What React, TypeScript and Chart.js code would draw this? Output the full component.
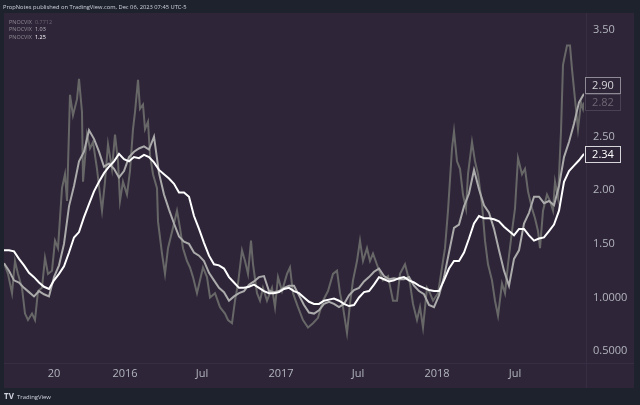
import React, { useEffect, useRef } from "react";
import { Chart, registerables } from "chart.js";

Chart.register(...registerables);

// ---- data ----
// x unit: sampling period of the two smoother series (~12 days)
const WHITE = [
  1.44, 1.44, 1.43, 1.36, 1.3, 1.23, 1.19, 1.14, 1.1, 1.08,
  1.16, 1.22, 1.29, 1.42, 1.56, 1.61, 1.75, 1.87, 1.99, 2.08,
  2.16, 2.22, 2.27, 2.34, 2.29, 2.27, 2.31, 2.3, 2.33, 2.31,
  2.26, 2.19, 2.15, 2.11, 2.06, 1.98, 1.98, 1.94, 1.76, 1.64,
  1.51, 1.39, 1.31, 1.3, 1.27, 1.19, 1.14, 1.09, 1.09, 1.1,
  1.12, 1.09, 1.06, 1.04, 1.04, 1.05, 1.08, 1.09, 1.06, 1.04,
  1.0, 0.96, 0.94, 0.94, 0.97, 0.98, 0.99, 0.97, 0.94, 0.92,
  0.93, 1.0, 1.05, 1.06, 1.12, 1.19, 1.17, 1.15, 1.16, 1.18,
  1.19, 1.16, 1.14, 1.11, 1.09, 1.07, 1.06, 1.06, 1.16, 1.27,
  1.34, 1.34, 1.42, 1.55, 1.69, 1.76, 1.74, 1.74, 1.73, 1.71,
  1.66, 1.62, 1.58, 1.64, 1.64, 1.58, 1.53, 1.55, 1.56, 1.62,
  1.68, 1.81, 2.08, 2.18, 2.23, 2.28, 2.34,
];

const LIGHT = [
  1.32, 1.25, 1.16, 1.14, 1.09, 1.05, 1.01, 1.06, 1.03, 1.01,
  1.19, 1.3, 1.5, 1.85, 2.04, 2.27, 2.36, 2.56, 2.48, 2.36,
  2.22, 2.25, 2.2, 2.12, 2.18, 2.31, 2.36, 2.39, 2.41, 2.38,
  2.5, 2.16, 1.96, 1.82, 1.69, 1.57, 1.52, 1.5, 1.42, 1.39,
  1.34, 1.23, 1.16, 1.09, 1.05, 0.97, 1.01, 1.04, 1.06, 1.12,
  1.15, 1.19, 1.2, 1.06, 1.05, 1.06, 1.09, 1.11, 1.11, 1.02,
  0.93, 0.86, 0.85, 0.88, 0.94, 0.96, 0.94, 0.91, 0.94, 1.02,
  1.07, 1.09, 1.15, 1.19, 1.24, 1.27, 1.2, 1.17, 1.18, 1.17,
  1.17, 1.19, 1.11, 1.06, 1.03, 0.93, 0.91, 1.02, 1.19, 1.42,
  1.65, 1.68, 1.85, 1.97, 2.19, 2.01, 1.86, 1.79, 1.64, 1.44,
  1.25, 1.11, 1.36, 1.44, 1.69, 1.79, 1.94, 1.94, 1.88, 1.9,
  1.86, 2.04, 2.31, 2.45, 2.62, 2.82, 2.9,
];

// the jagged series is read at finer, uneven steps
const DARK_X = [
  0, 0.8, 1.6, 2.2, 2.8, 3.6, 4.2, 4.8, 5.6, 6.2, 6.8, 7.6, 8.2, 8.8, 9.6,
  10.2, 10.8, 11.6, 12.2, 12.6, 13.2, 13.8, 14.6, 15, 15.6, 15.8, 16.6, 17.2, 17.8, 18.6,
  19.2, 19.6, 20.2, 20.8, 21.6, 22.2, 22.8, 23.2, 23.8, 24.6, 25.2, 25.8, 26.2, 26.8, 27.2,
  27.8, 28.2, 28.8, 29.2, 29.8, 30.6, 30.8, 31.6, 32.2, 32.8, 33.8, 34.6, 35.2, 35.8, 36.6,
  37.2, 37.8, 38.6, 39.2, 39.8, 40.6, 41.2, 42.2, 43.2, 44.2, 44.8, 45.6, 46.2, 46.8, 47.6,
  48.2, 48.8, 49.4, 49.8, 50.6, 51.2, 51.8, 52.6, 53.6, 54.2, 54.8, 55.6, 56.6, 57.2, 57.8,
  58.8, 59.8, 60.8, 61.8, 62.8, 63.8, 64.8, 65.8, 66.6, 67.2, 67.8, 68.6, 69.2, 69.8, 70.6,
  71.2, 71.8, 72.6, 73.2, 73.8, 74.8, 75.8, 76.8, 77.8, 78.6, 79.2, 80.2, 81.2, 81.8, 82.6,
  83.2, 83.8, 84.6, 85.2, 85.8, 86.8, 87.6, 88.2, 88.8, 89.6, 90, 90.6, 91.2, 91.8, 92.4,
  92.8, 93.6, 94.2, 94.8, 95.6, 96.2, 96.8, 97.6, 98.2, 98.8, 99.6, 100.2, 100.8, 101.6, 102.2,
  102.8, 103.6, 104.2, 104.8, 105.6, 106.2, 106.8, 107.2, 107.8, 108.6, 109.2, 109.8, 110.2, 110.8, 111.4,
  111.8, 112.6, 113.2, 113.6, 114.2, 114.8, 115.4, 115.8, 116,
];
const DARK_Y = [
  1.32, 1.22, 1.04, 1.34, 1.22, 1.09, 0.85, 0.79, 0.85, 0.79, 1.06, 1.09, 1.37, 1.22, 1.25,
  1.53, 1.46, 2.02, 2.15, 1.9, 2.89, 2.7, 2.85, 3.04, 2.73, 2.08, 2.52, 2.39, 2.45, 2.2,
  1.96, 1.81, 2.08, 2.43, 2.2, 2.52, 2.27, 1.9, 2.08, 1.96, 2.18, 2.57, 2.73, 3.03, 2.76,
  2.8, 2.57, 2.64, 2.33, 2.15, 2.02, 1.71, 1.41, 1.22, 1.46, 1.65, 1.81, 1.65, 1.46, 1.34,
  1.28, 1.19, 1.04, 1.16, 1.28, 1.19, 1.0, 1.04, 0.91, 0.85, 0.79, 0.76, 0.97, 1.13, 1.44,
  1.34, 1.22, 1.53, 1.31, 1.04, 0.97, 1.09, 0.97, 1.09, 0.91, 1.19, 1.06, 1.22, 1.28, 1.04,
  0.91, 0.79, 0.72, 0.76, 0.81, 0.97, 1.06, 1.22, 1.25, 1.04, 0.91, 0.67, 0.94, 1.16, 1.34,
  1.53, 1.34, 1.46, 1.34, 1.41, 1.28, 1.16, 1.2, 0.97, 0.97, 1.22, 1.31, 1.13, 0.94, 0.79,
  0.91, 0.72, 1.09, 1.04, 0.97, 1.04, 1.28, 1.46, 1.81, 2.39, 2.55, 2.27, 2.2, 1.96, 1.83,
  2.15, 2.45, 2.27, 2.15, 1.87, 1.53, 1.31, 1.16, 0.97, 0.83, 1.13, 1.04, 1.31, 1.62, 1.83,
  2.3, 2.15, 2.2, 1.99, 1.83, 1.74, 1.62, 1.46, 1.81, 1.96, 1.9, 1.81, 2.08, 1.93, 2.55,
  3.17, 3.35, 3.35, 3.13, 2.85, 2.57, 2.82, 2.76, 2.82,
];

const X_TICKS = [10, 24.2, 39.6, 55.4, 70.8, 86.6, 102.2];
const X_LABELS = ["20", "2016", "Jul", "2017", "Jul", "2018", "Jul"];
const Y_TICKS = [0.5, 1, 1.5, 2, 2.5, 3.5];
const Y_MIN = 0.3889;
const Y_MAX = 3.6296;

const LAST_WHITE = "2.34";
const LAST_LIGHT = "2.90";
const LAST_DARK = "2.82";
const LEGEND_NAME = "PNOCVIX";
const LEGEND_VALUES = ["0.7712", "1.03", "1.25"];
const TITLE = "PropNotes published on TradingView.com, Dec 06, 2023 07:45 UTC-5";

// ---- styles ----
const OUTER = "#1e222d";
const PANE = "#2f2539";
const SEP = "#382e43";
const TICK = "#b2b5be";
const C_WHITE = "#ffffff";
const C_LIGHT = "#ababab";
const C_DARK = "#676767";
const FONT = "'Open Sans', 'DejaVu Sans', sans-serif";

const seq = (arr: number[]) => arr.map((v, i) => ({ x: i, y: v }));
const pairs = (xs: number[], ys: number[]) => xs.map((x, i) => ({ x, y: ys[i] }));

function fitFont(ctx: CanvasRenderingContext2D, text: string, width: number, weight = "") {
  ctx.font = `${weight} 10px ${FONT}`;
  const w = ctx.measureText(text).width;
  const size = (10 * width) / w;
  return `${weight} ${size.toFixed(2)}px ${FONT}`;
}

const decorPlugin = {
  id: "decor",
  beforeDraw(chart: any) {
    const ctx: CanvasRenderingContext2D = chart.ctx;
    ctx.save();
    ctx.fillStyle = OUTER;
    ctx.fillRect(0, 0, chart.width, chart.height);
    ctx.fillStyle = PANE;
    ctx.fillRect(4, 13, 630, 375);
    ctx.strokeStyle = SEP;
    ctx.lineWidth = 1;
    ctx.beginPath();
    ctx.moveTo(586.5, 13);
    ctx.lineTo(586.5, 388);
    ctx.moveTo(4, chart.chartArea.bottom + 0.5);
    ctx.lineTo(634, chart.chartArea.bottom + 0.5);
    ctx.stroke();
    ctx.restore();
  },
  afterDraw(chart: any) {
    const ctx: CanvasRenderingContext2D = chart.ctx;
    const y = chart.scales.y;
    ctx.save();

    const box = (cy: number, text: string, border: string, color: string) => {
      const top = Math.round(cy - 8);
      ctx.fillStyle = PANE;
      ctx.fillRect(585, top, 36, 17);
      ctx.strokeStyle = border;
      ctx.lineWidth = 1;
      ctx.strokeRect(585.5, top + 0.5, 35, 16);
      ctx.fillStyle = color;
      ctx.font = `11px ${FONT}`;
      ctx.textAlign = "center";
      ctx.textBaseline = "middle";
      ctx.fillText(text, 603, top + 8.5);
    };
    const yDark = y.getPixelForValue(parseFloat(LAST_DARK));
    box(yDark, LAST_DARK, "#4a4254", "#6d6773");
    box(yDark - 17, LAST_LIGHT, "#8e8a95", "#d4d4d8");
    box(y.getPixelForValue(parseFloat(LAST_WHITE)), LAST_WHITE, "#d6d6da", "#ffffff");

    ctx.textAlign = "left";
    ctx.textBaseline = "middle";
    ctx.fillStyle = "#d1d4dc";
    ctx.font = fitFont(ctx, TITLE, 184);
    ctx.fillText(TITLE, 3, 7);

    const colors = ["#6d6773", "#b9b9be", "#ffffff"];
    LEGEND_VALUES.forEach((val, i) => {
      const ly = 22 + i * 7.5;
      ctx.fillStyle = "#8f8c96";
      ctx.font = fitFont(ctx, LEGEND_NAME, 23);
      ctx.fillText(LEGEND_NAME, 9, ly);
      ctx.fillStyle = colors[i];
      ctx.fillText(val, 35, ly);
    });

    ctx.fillStyle = "#d1d4dc";
    ctx.font = `bold 8px ${FONT}`;
    ctx.fillText("TV", 4, 397);
    ctx.font = fitFont(ctx, "TradingView", 34);
    ctx.fillText("TradingView", 17, 397);

    ctx.restore();
  },
};

export default function App() {
  const ref = useRef<HTMLCanvasElement | null>(null);

  useEffect(() => {
    if (!ref.current) return;
    const tickFont = { family: FONT, size: 11 };
    const chart = new Chart(ref.current, {
      type: "line",
      data: {
        datasets: [
          { label: "white", data: seq(WHITE), borderColor: C_WHITE, borderWidth: 2 },
          { label: "light", data: seq(LIGHT), borderColor: C_LIGHT, borderWidth: 2 },
          { label: "dark", data: pairs(DARK_X, DARK_Y), borderColor: C_DARK, borderWidth: 2 },
        ],
      },
      options: {
        responsive: false,
        animation: false,
        devicePixelRatio: 1,
        parsing: false,
        layout: { padding: { left: 4, top: 13, right: 6, bottom: 17 } },
        plugins: {
          legend: { display: false },
          tooltip: { enabled: false },
          title: { display: false },
        },
        elements: {
          point: { radius: 0 },
          line: { tension: 0, borderJoinStyle: "miter", borderCapStyle: "butt" },
        },
        scales: {
          x: {
            type: "linear",
            min: 0,
            max: WHITE.length - 1,
            grid: { display: false, drawTicks: false },
            border: { display: false },
            afterBuildTicks: (s: any) => {
              s.ticks = X_TICKS.map((v) => ({ value: v }));
            },
            afterFit: (s: any) => {
              s.height = 25;
            },
            ticks: {
              autoSkip: false,
              maxRotation: 0,
              padding: 4,
              color: TICK,
              font: tickFont,
              callback: (_v: any, i: number) => X_LABELS[i],
            },
          },
          y: {
            type: "linear",
            position: "right",
            min: Y_MIN,
            max: Y_MAX,
            grid: { display: false, drawTicks: false },
            border: { display: false },
            afterBuildTicks: (s: any) => {
              s.ticks = Y_TICKS.map((v) => ({ value: v }));
            },
            afterFit: (s: any) => {
              s.width = 50;
            },
            ticks: {
              padding: 9,
              color: TICK,
              font: tickFont,
              callback: (v: any) => (v < 1.25 ? Number(v).toFixed(4) : Number(v).toFixed(2)),
            },
          },
        },
      } as any,
      plugins: [decorPlugin],
    });
    return () => chart.destroy();
  }, []);

  return (
    <div style={{ position: "fixed", left: 0, top: 0, width: 640, height: 405 }}>
      <canvas ref={ref} width={640} height={405} style={{ display: "block" }} />
    </div>
  );
}
